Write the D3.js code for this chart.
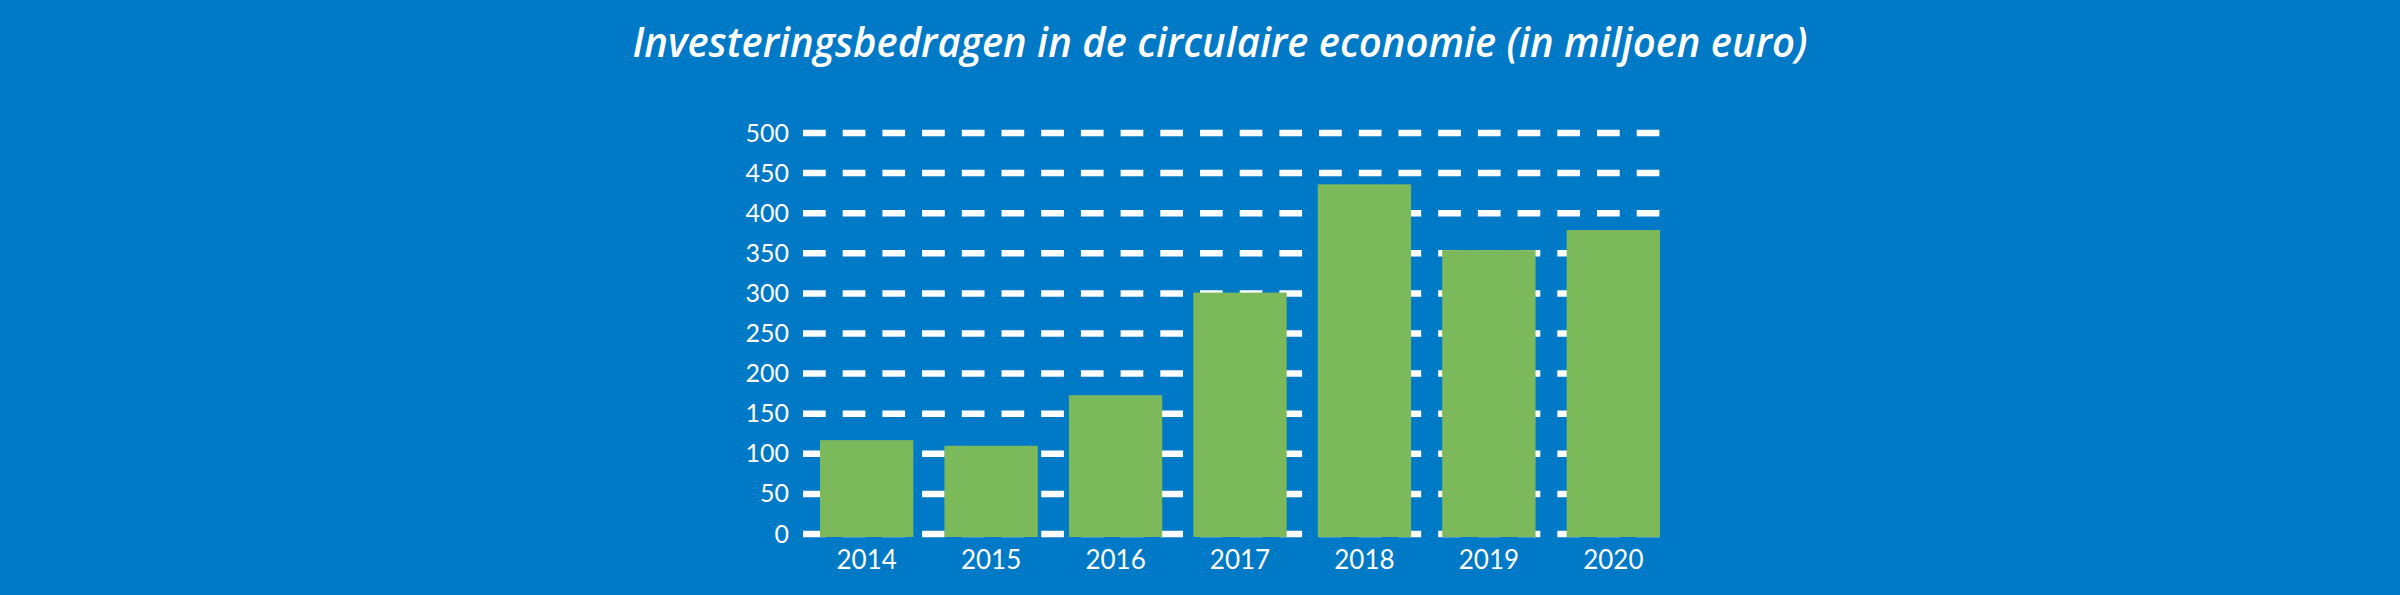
<!DOCTYPE html>
<html>
<head>
<meta charset="utf-8">
<script src="https://cdn.jsdelivr.net/npm/d3@7"></script>
<style>
  html, body { margin: 0; padding: 0; background: #0079c6; }
  svg { display: block; }
</style>
</head>
<body>
<svg id="chart" width="2400" height="595"></svg>
<script>
// Gegevens
const jaren = ['2014', '2015', '2016', '2017', '2018', '2019', '2020']
const bedragen = [117, 110, 173, 301, 436, 354, 379]
const yTicks = [0, 50, 100, 150, 200, 250, 300, 350, 400, 450, 500]
const titel = 'Investeringsbedragen in de circulaire economie (in miljoen euro)'

const svg = d3.select('#chart'),
    width = +svg.attr('width'),
    height = +svg.attr('height')

const kleur = {
    achtergrond: '#0079c6',
    balk: '#7bb95a',
    tekst: '#ffffff',
}

svg.append('rect')
    .attr('width', width)
    .attr('height', height)
    .attr('fill', kleur.achtergrond)

// Titel
svg.append('text')
    .attr('x', 1220)
    .attr('y', 57)
    .attr('text-anchor', 'middle')
    .attr('fill', kleur.tekst)
    .attr('font-family', 'Open Sans, sans-serif')
    .attr('font-style', 'italic')
    .attr('font-weight', 600)
    .attr('font-size', 41)
    .attr('textLength', 1175)
    .attr('lengthAdjust', 'spacingAndGlyphs')
    .text(titel)

const x = d3.scaleBand()
    .domain(jaren)
    .range([820, 1660])
    .paddingInner(0.25)
    .paddingOuter(0)

const y = d3.scaleLinear()
    .domain([0, 500])
    .range([534, 133])

// Rasterlijnen (gestreept) met y-as labels
const yAxis = svg.append('g')
    .attr('transform', 'translate(803,0)')
    .call(d3.axisLeft(y).tickValues(yTicks).tickSize(0).tickPadding(14))

yAxis.select('.domain').remove()
yAxis.selectAll('text')
    .attr('fill', kleur.tekst)
    .attr('font-family', 'Lato, sans-serif')
    .attr('font-size', 25)

svg.append('g')
    .selectAll('line')
    .data(yTicks)
    .join('line')
    .attr('x1', 803)
    .attr('x2', 1660)
    .attr('y1', d => y(d))
    .attr('y2', d => y(d))
    .attr('stroke', kleur.tekst)
    .attr('stroke-width', 6.5)
    .attr('stroke-dasharray', '22.7 17')

// Balken
svg.append('g')
    .selectAll('rect')
    .data(jaren)
    .join('rect')
    .attr('x', d => x(d))
    .attr('width', x.bandwidth())
    .attr('y', (d, i) => y(bedragen[i]))
    .attr('height', (d, i) => y(0) - y(bedragen[i]) + 3)
    .attr('fill', kleur.balk)

// x-as labels
const xAxis = svg.append('g')
    .attr('transform', 'translate(0,537)')
    .call(d3.axisBottom(x).tickSize(0).tickPadding(14))

xAxis.select('.domain').remove()
xAxis.selectAll('text')
    .attr('fill', kleur.tekst)
    .attr('font-family', 'Lato, sans-serif')
    .attr('font-size', 26)
</script>
</body>
</html>
